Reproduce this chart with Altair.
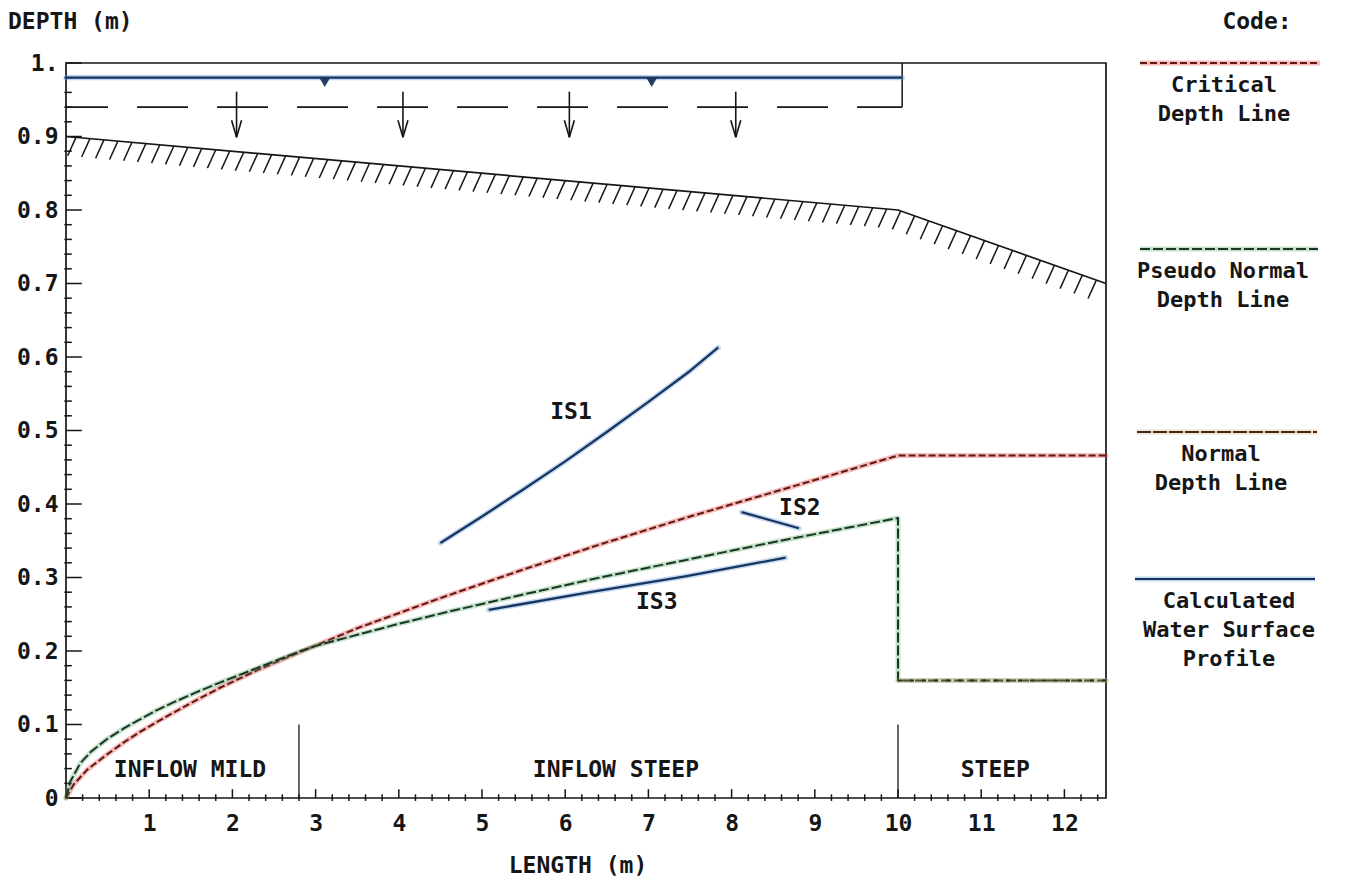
import altair as alt
import numpy as np
import pandas as pd

FONT = "DejaVu Sans Mono"
INK = "#161616"
WEIGHT = "bold"

# ---------------- axes ----------------
X_MAX = 12.5
Y_MAX = 1.0
x_major = [1, 2, 3, 4, 5, 6, 7, 8, 9, 10, 11, 12]
y_major = [0.0, 0.1, 0.2, 0.3, 0.4, 0.5, 0.6, 0.7, 0.8, 0.9, 1.0]

# ---------------- depth lines ----------------
crit_x = [0, 0.09, 0.25, 0.49, 0.7, 0.89, 1.1, 1.29, 1.55, 1.85, 2.3, 2.8, 3.5, 4.5, 5.5,
          6.42, 7.5, 8.5, 10.0, 12.5]
crit_y = [0, 0.018, 0.038, 0.059, 0.076, 0.09, 0.104, 0.116, 0.132, 0.15, 0.174, 0.198,
          0.231, 0.272, 0.311, 0.345, 0.383, 0.416, 0.466, 0.466]

pseudo_x = [0, 0.05, 0.17, 0.3, 0.49, 0.7, 0.89, 1.1, 1.29, 1.55, 1.85, 2.3, 2.8, 3.0, 3.5,
            4.0, 4.58, 5.5, 6.42, 7.5, 8.5, 10.0, 10.0, 12.5]
pseudo_y = [0, 0.022, 0.047, 0.063, 0.08, 0.095, 0.107, 0.12, 0.13, 0.143, 0.157, 0.177,
            0.199, 0.207, 0.222, 0.237, 0.253, 0.277, 0.3, 0.325, 0.348, 0.381, 0.16, 0.16]

normal_x = [10.0, 12.5]
normal_y = [0.16, 0.16]

# ---------------- calculated water surface profiles ----------------
is1_x = [4.5, 5.0, 5.5, 6.0, 6.5, 7.0, 7.5, 7.84]
is1_y = [0.347, 0.383, 0.42, 0.458, 0.498, 0.539, 0.581, 0.613]
is2_x = [8.12, 8.81]
is2_y = [0.389, 0.367]
is3_x = [5.08, 6.3, 7.46, 8.65]
is3_y = [0.256, 0.28, 0.302, 0.327]
profile_names = ["IS1", "IS2", "IS3"]
profile_label_x = [6.07, 8.82, 7.10]
profile_label_y = [0.525, 0.394, 0.266]

# ---------------- channel bed ----------------
bed_x = [0.0, 10.0, 12.5]
bed_y = [0.9, 0.8, 0.7]

# ---------------- lateral inflow sketch ----------------
sketch_x = [0.0, 10.05]
water_level = 0.98
inflow_level = 0.94
arrow_x = [2.05, 4.05, 6.05, 8.05]
arrow_top = 0.961
arrow_tip = 0.899
surface_mark_x = [3.11, 7.04]

# ---------------- reaches ----------------
reach_names = ["INFLOW MILD", "INFLOW STEEP", "STEEP"]
reach_label_x = [1.49, 6.61, 11.17]
reach_bounds = [2.8, 10.0]

# ---------------- legend ----------------
legend_entries = [
    ["Critical", "Depth Line"],
    ["Pseudo Normal", "Depth Line"],
    ["Normal", "Depth Line"],
    ["Calculated", "Water Surface", "Profile"],
]

# ---------------- styles ----------------
RED, RED_HALO = "#5e1812", "#e23a3a"
GREEN, GREEN_HALO = "#1b3524", "#58a868"
BROWN, BROWN_HALO = "#3e2a1c", "#d8a870"
BLUE, BLUE_HALO = "#1a335e", "#4d94d6"

XS = alt.Scale(domain=[0, X_MAX], nice=False, zero=False)
YS = alt.Scale(domain=[0, Y_MAX], nice=False, zero=False)
X_AXIS = alt.Axis(values=x_major, format="d", ticks=False, tickSize=0, domain=False, grid=False,
                  labelFont=FONT, labelFontSize=23, labelFontWeight=WEIGHT, labelColor=INK,
                  labelPadding=14, labelOverlap=False, labelFlush=False, title=None)
Y_AXIS = alt.Axis(values=y_major, ticks=False, tickSize=0, domain=False, grid=False,
                  labelExpr="datum.value == 1 ? '1.' : datum.value == 0 ? '0' : format(datum.value, '.1f')",
                  labelFont=FONT, labelFontSize=23, labelFontWeight=WEIGHT, labelColor=INK,
                  labelPadding=8, labelOverlap=False, labelFlush=False, title=None)


def ex(field="x"):
    return alt.X(f"{field}:Q", scale=XS, axis=X_AXIS, title=None)


def ey(field="y"):
    return alt.Y(f"{field}:Q", scale=YS, axis=Y_AXIS, title=None)


def curve(name, xs, ys):
    return pd.DataFrame({"x": xs, "y": ys, "i": range(len(xs)), "name": name})


def styled_line(df, core, halo, dash=None, width=2.0, halo_opacity=0.35):
    enc = dict(x=ex(), y=ey(), order=alt.Order("i:Q"), detail="name:N")
    under = alt.Chart(df).mark_line(color=halo, strokeWidth=width + 3, opacity=halo_opacity,
                                    strokeCap="round", strokeJoin="round").encode(**enc)
    kw = dict(color=core, strokeWidth=width, strokeJoin="round")
    if dash:
        kw["strokeDash"] = dash
    over = alt.Chart(df).mark_line(**kw).encode(**enc)
    return [under, over]


def segments(df, color=INK, width=1.5, **kw):
    return alt.Chart(df).mark_rule(color=color, strokeWidth=width, **kw).encode(
        x=ex("x"), y=ey("y"), x2=alt.X2("x2:Q"), y2=alt.Y2("y2:Q"))


layers = []

# ---- axis ticks (drawn inside the frame) ----
xt_major = pd.DataFrame({"x": x_major, "x2": x_major, "y": 0.0, "y2": 0.012})
xt_minor_pos = [v for v in np.round(np.arange(0.2, X_MAX, 0.2), 2) if abs(v - round(v)) > 1e-6]
xt_minor = pd.DataFrame({"x": xt_minor_pos, "x2": xt_minor_pos, "y": -0.004, "y2": 0.005})
yt_major = pd.DataFrame({"x": 0.0, "x2": 0.19, "y": y_major, "y2": y_major})
yt_minor_pos = [v for v in np.round(np.arange(0.02, Y_MAX, 0.02), 2) if abs(v * 10 - round(v * 10)) > 1e-6]
yt_minor = pd.DataFrame({"x": -0.02, "x2": 0.07, "y": yt_minor_pos, "y2": yt_minor_pos})
for d in (xt_major, xt_minor, yt_major, yt_minor):
    layers.append(segments(d, width=1.5))

# ---- reach boundaries ----
bounds = pd.DataFrame({"x": reach_bounds, "x2": reach_bounds, "y": 0.0, "y2": 0.1})
layers.append(segments(bounds, width=1.3))

# ---- channel bed with hatching ----
bed = curve("bed", bed_x, bed_y)
layers.append(alt.Chart(bed).mark_line(color=INK, strokeWidth=1.7).encode(
    x=ex(), y=ey(), order=alt.Order("i:Q")))
hatch_at = np.arange(0.12, X_MAX, 0.168)
hatch_top = np.interp(hatch_at, bed_x, bed_y)
hatch = pd.DataFrame({"x": hatch_at, "y": hatch_top, "x2": hatch_at - 0.1, "y2": hatch_top - 0.025})
layers.append(segments(hatch, width=1.5))

# ---- lateral inflow sketch ----
inflow = pd.DataFrame({"x": [sketch_x[0]], "x2": [sketch_x[1]], "y": [inflow_level], "y2": [inflow_level]})
layers.append(segments(inflow, width=1.7, strokeDash=[51, 29], strokeDashOffset=9))
side = pd.DataFrame({"x": [sketch_x[1]], "x2": [sketch_x[1]], "y": [inflow_level], "y2": [Y_MAX]})
layers.append(segments(side, width=1.5))
water = curve("water", sketch_x, [water_level, water_level])
layers += styled_line(water, BLUE, BLUE_HALO, width=2.2, halo_opacity=0.4)
marks = pd.DataFrame({"x": surface_mark_x, "y": water_level - 0.006})
layers.append(alt.Chart(marks).mark_point(shape="triangle-down", filled=True, color=BLUE,
                                          size=130, opacity=0.95).encode(x=ex(), y=ey()))
shafts = pd.DataFrame({"x": arrow_x, "x2": arrow_x, "y": arrow_top, "y2": arrow_tip})
layers.append(segments(shafts, width=1.6))
heads = pd.DataFrame({
    "x": arrow_x + arrow_x,
    "x2": [a - 0.06 for a in arrow_x] + [a + 0.06 for a in arrow_x],
    "y": arrow_tip,
    "y2": arrow_tip + 0.023,
})
layers.append(segments(heads, width=1.6))

# ---- depth lines ----
layers += styled_line(curve("critical", crit_x, crit_y), RED, RED_HALO, dash=[7, 3])
layers += styled_line(curve("pseudo", pseudo_x, pseudo_y), GREEN, GREEN_HALO, dash=[10, 3])
layers += styled_line(curve("normal", normal_x, normal_y), BROWN, BROWN_HALO, dash=[4, 8],
                      halo_opacity=0.25)

# ---- calculated profiles ----
profiles = pd.concat([curve("IS1", is1_x, is1_y), curve("IS2", is2_x, is2_y),
                      curve("IS3", is3_x, is3_y)])
layers += styled_line(profiles, BLUE, BLUE_HALO, width=2.3, halo_opacity=0.35)

# ---- in-plot text ----
txt = dict(font=FONT, fontSize=23, fontWeight=WEIGHT, color=INK, align="center", baseline="middle")
plabels = pd.DataFrame({"x": profile_label_x, "y": profile_label_y, "t": profile_names})
layers.append(alt.Chart(plabels).mark_text(**txt).encode(x=ex(), y=ey(), text="t:N"))
rlabels = pd.DataFrame({"x": reach_label_x, "y": 0.038, "t": reach_names})
layers.append(alt.Chart(rlabels).mark_text(**txt).encode(x=ex(), y=ey(), text="t:N"))


# ---- text and keys outside the frame (pixel positions relative to the plot origin) ----
def free_text(s, px, py, align="center", size=23):
    return alt.Chart(pd.DataFrame({"t": [s]})).mark_text(
        font=FONT, fontSize=size, fontWeight=WEIGHT, color=INK, align=align,
        baseline="middle").encode(x=alt.value(px), y=alt.value(py), text="t:N")


layers.append(free_text("DEPTH  (m)", -58, -41, align="left"))
layers.append(free_text("LENGTH  (m)", 512, 803))
layers.append(free_text("Code:", 1191, -41))

key_style = [(RED, RED_HALO, [7, 3]), (GREEN, GREEN_HALO, [10, 3]),
             (BROWN, BROWN_HALO, [14, 2]), (BLUE, BLUE_HALO, None)]
key_y = [0, 186, 369, 516]
key_x = [(1074, 1254), (1074, 1252), (1071, 1251), (1069, 1249)]
key_text_x = [1158, 1157, 1155, 1163]
LINE_GAP = 29
for entry, (core, halo, dash), ky, (kx1, kx2), tx in zip(legend_entries, key_style, key_y, key_x, key_text_x):
    one = pd.DataFrame({"k": [0]})
    layers.append(alt.Chart(one).mark_rule(color=halo, strokeWidth=5, opacity=0.35).encode(
        x=alt.value(kx1), x2=alt.value(kx2), y=alt.value(ky)))
    kw = dict(color=core, strokeWidth=2)
    if dash:
        kw["strokeDash"] = dash
    layers.append(alt.Chart(one).mark_rule(**kw).encode(
        x=alt.value(kx1), x2=alt.value(kx2), y=alt.value(ky)))
    for j, line in enumerate(entry):
        layers.append(free_text(line, tx, ky + 22 + j * LINE_GAP, size=22))

chart = alt.layer(*layers).properties(
    width=1040,
    height=735,
    autosize=alt.AutoSizeParams(type="none"),
    padding={"left": 66, "top": 63, "right": 242, "bottom": 83},
    background="white",
).configure_view(stroke=INK, strokeWidth=1.7)

chart.save("out.html", embed_options={"renderer": "svg", "actions": False})
